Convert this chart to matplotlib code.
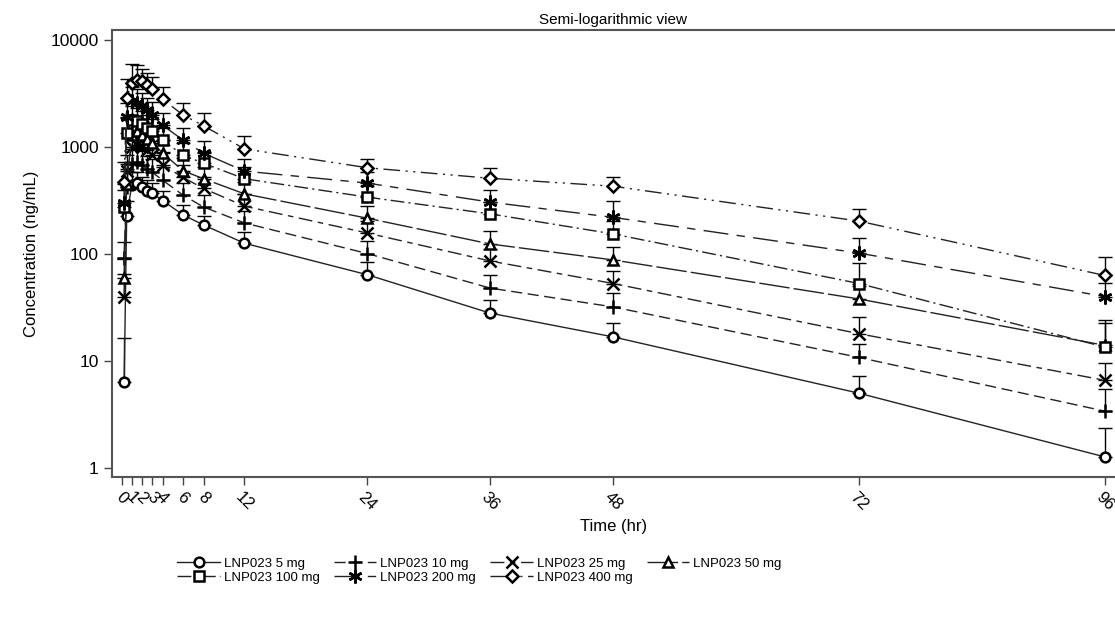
import matplotlib
matplotlib.use("Agg")
import matplotlib.pyplot as plt
import numpy as np

plt.rcParams['font.family'] = ['Liberation Sans', 'DejaVu Sans']

time_h = [0.25, 0.5, 1, 1.5, 2, 2.5, 3, 4, 6, 8, 12, 24, 36, 48, 72, 96]
xtick_vals = [0, 1, 2, 3, 4, 6, 8, 12, 24, 36, 48, 72, 96]
ytick_vals = [1, 10, 100, 1000, 10000]

labels = ["LNP023 5 mg", "LNP023 10 mg", "LNP023 25 mg", "LNP023 50 mg",
          "LNP023 100 mg", "LNP023 200 mg", "LNP023 400 mg"]

mean_5 = [6.3, 225, 440, 460, 420, 390, 370, 316, 232, 187, 126, 64, 28, 16.8, 5.0, 1.27]
sd_5 = [10, 90, 140, 130, 110, 100, 90, 75, 55, 40, 34, 20, 9, 6, 2.2, 1.1]
mean_10 = [92, 420, 700, 720, 680, 620, 580, 490, 355, 275, 195, 101, 48, 32, 10.8, 3.4]
sd_10 = [38, 200, 260, 250, 230, 210, 190, 160, 110, 80, 55, 30, 16, 11, 3.5, 2.1]
mean_25 = [40, 600, 1000, 1050, 1000, 930, 850, 680, 520, 410, 280, 157, 86, 53, 18, 6.6]
sd_25 = [25, 250, 380, 370, 340, 310, 280, 220, 160, 120, 80, 45, 25, 16, 8, 3]
mean_50 = [60, 450, 1300, 1400, 1300, 1200, 1100, 880, 600, 505, 365, 216, 124, 88, 38, 14]
sd_50 = [30, 250, 500, 480, 440, 400, 360, 280, 190, 150, 110, 65, 40, 28, 12, 10]
mean_100 = [275, 1350, 1800, 1750, 1650, 1500, 1400, 1160, 840, 705, 505, 340, 237, 154, 53, 13.5]
sd_100 = [120, 500, 600, 560, 520, 470, 430, 350, 250, 200, 140, 90, 70, 50, 29, 9]
mean_200 = [300, 1900, 2700, 2600, 2400, 2200, 2000, 1600, 1160, 875, 595, 460, 305, 220, 102, 40]
sd_200 = [150, 700, 900, 850, 780, 700, 640, 500, 350, 260, 170, 130, 90, 95, 40, 14]
mean_400 = [470, 2900, 4000, 4200, 4100, 3800, 3500, 2800, 1990, 1580, 960, 640, 510, 430, 203, 63]
sd_400 = [250, 1400, 2000, 1600, 1300, 1100, 1000, 800, 600, 500, 310, 130, 130, 100, 62, 30]

means = [mean_5, mean_10, mean_25, mean_50, mean_100, mean_200, mean_400]
sds = [sd_5, sd_10, sd_25, sd_50, sd_100, sd_200, sd_400]

markers = ['o', '+', 'x', '^', 's', (6, 2, 0), 'D']
msizes = [7, 10, 9, 7.5, 7, 10, 6.5]
dashes = [None, (8, 4), (10, 4, 4, 4), (22, 3), (10, 3, 1.5, 3), (18, 6, 6, 6), (12, 4, 1.5, 4, 1.5, 4)]

fig = plt.figure(figsize=(11.15, 6.25), dpi=100)
ax = fig.add_axes([0.1004, 0.2368, 0.8996, 0.7152])

handles = []
for m, s, mk, ms, ds, lab in zip(means, sds, markers, msizes, dashes, labels):
    m = np.array(m); s = np.array(s)
    ax.errorbar(time_h, m, yerr=[np.zeros_like(s), s], fmt='none', ecolor='black',
                elinewidth=1.0, capsize=5, capthick=1.0, zorder=2)
    line, = ax.plot(time_h, m, color='#222222', lw=1.0, zorder=3,
                    marker=mk, ms=ms, mfc='white', mec='black', mew=1.8, label=lab)
    if ds is not None:
        line.set_dashes(ds)
    handles.append(line)

ax.set_yscale('log')
ax.set_xlim(-0.94, 97.0)
ax.set_ylim(0.824, 12400)
ax.set_xticks(xtick_vals)
ax.set_xticklabels([str(v) for v in xtick_vals], rotation=-45, ha='center', va='top', fontsize=12)
ax.set_yticks(ytick_vals)
ax.set_yticklabels([str(v) for v in ytick_vals], fontsize=12.5)
ax.minorticks_off()
ax.tick_params(direction='out', length=6, width=1, color='#444444')
ax.tick_params(axis='x', pad=3)
for sp in ['left', 'bottom', 'top']:
    ax.spines[sp].set_color('#555555')
    ax.spines[sp].set_linewidth(1.5)
ax.spines['right'].set_visible(False)

ax.set_title("Semi-logarithmic view", fontsize=11, pad=4)
ax.set_ylabel("Concentration (ng/mL)", fontsize=12, labelpad=8)
ax.set_xlabel("Time (hr)", fontsize=12, labelpad=4)

order = [0, 4, 1, 5, 2, 6, 3]
leg = fig.legend([handles[i] for i in order], [labels[i] for i in order],
                 ncol=4, loc='center', bbox_to_anchor=(0.43, 0.087), frameon=False,
                 fontsize=9.5, handlelength=3.2, columnspacing=1.1, handletextpad=0.3,
                 labelspacing=0.1, borderpad=0)

fig.savefig("out.png", dpi=100)
